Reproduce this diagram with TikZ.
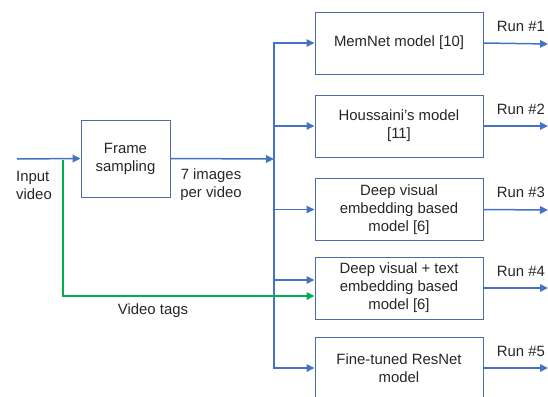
\documentclass[tikz,border=0pt]{standalone}
\usepackage{fontspec}
\setmainfont{Liberation Sans}
\usetikzlibrary{arrows.meta,calc}
\definecolor{arrowblue}{HTML}{4472C4}
\definecolor{boxblue}{HTML}{4A6DAA}
\definecolor{tagsgreen}{HTML}{00B050}
\tikzstyle{model}=[draw=boxblue,line width=0.9pt,minimum width=168pt,minimum height=62pt,inner sep=0pt,align=center]
\tikzstyle{flow}=[draw=arrowblue,line width=1.5pt,-{Triangle[length=8pt,width=7.5pt]}]
\tikzstyle{txt}=[inner sep=0pt,align=center]
\newcommand{\model}{\node[model]}
\newcommand{\txt}{\node[txt]}

\begin{document}
\begin{tikzpicture}[x=1pt,y=-1pt,font=\fontsize{14.9}{18}\selectfont,text=black!85]
			\useasboundingbox (0,0) rectangle (548,396);
			% % % % % % % % % % % % % % % % % % % % % % % % % % % % %
			\coordinate (in) at (17,159);
			\coordinate (tap) at (63,159);
			\coordinate (split) at (274,159);
			\node[model,minimum width=89pt,minimum height=77pt] (frame) at (125.5,158.5) {Frame\\sampling};
			\txt [align=left] (inlab) at (34,185) {Input\\video};
			\txt (perlab) at (211,185) {7 images\\per video};
			\txt (tags) at (153,311) {Video tags};
			%*********************
			\model (m1) at (399,43) {MemNet model [10]};
			\model (m2) at (399,126) {Houssaini's model\\{}[11]};
			\model (m3) at (399,209.5) {Deep visual\\embedding based\\model [6]};
			\model (m4) at (399,288) {Deep visual + text\\embedding based\\model [6]};
			\model (m5) at (399,368) {Fine-tuned ResNet\\model};
			%*********************
			\coordinate (r1) at (548,44);
			\coordinate (r2) at (548,126);
			\coordinate (r3) at (548,210);
			\coordinate (r4) at (548,288);
			\coordinate (r5) at (548,368);
			% % % % % % % % % % % % % % % % %
			\draw[flow] (in) -- (frame.west);
			\draw[flow] (frame.east) -- (split);
			\draw[arrowblue,line width=1.5pt] ($(split)+(0,-115)$) -- ($(split)+(0,210)$);
			\draw[flow] (split) |- (m1.west);
			\draw[flow] (split) |- (m2.west);
			\draw[flow] (split) |- (m3.west);
			\draw[flow] (split) |- ($(m4.west)+(0,-8)$);
			\draw[flow] (split) |- (m5.west);
			\draw[flow,draw=tagsgreen] ($(tap)+(0,1)$) |- ($(m4.west)+(0,8)$);
			%*************
			\draw[flow] (m1.east) -- node[txt,pos=0.58,above=11pt] {Run \#1} (r1);
			\draw[flow] (m2.east) -- node[txt,pos=0.58,above=11pt] {Run \#2} (r2);
			\draw[flow] (m3.east) -- node[txt,pos=0.58,above=11pt] {Run \#3} (r3);
			\draw[flow] (m4.east) -- node[txt,pos=0.58,above=11pt] {Run \#4} (r4);
			\draw[flow] (m5.east) -- node[txt,pos=0.58,above=11pt] {Run \#5} (r5);
\end{tikzpicture}
\end{document}
